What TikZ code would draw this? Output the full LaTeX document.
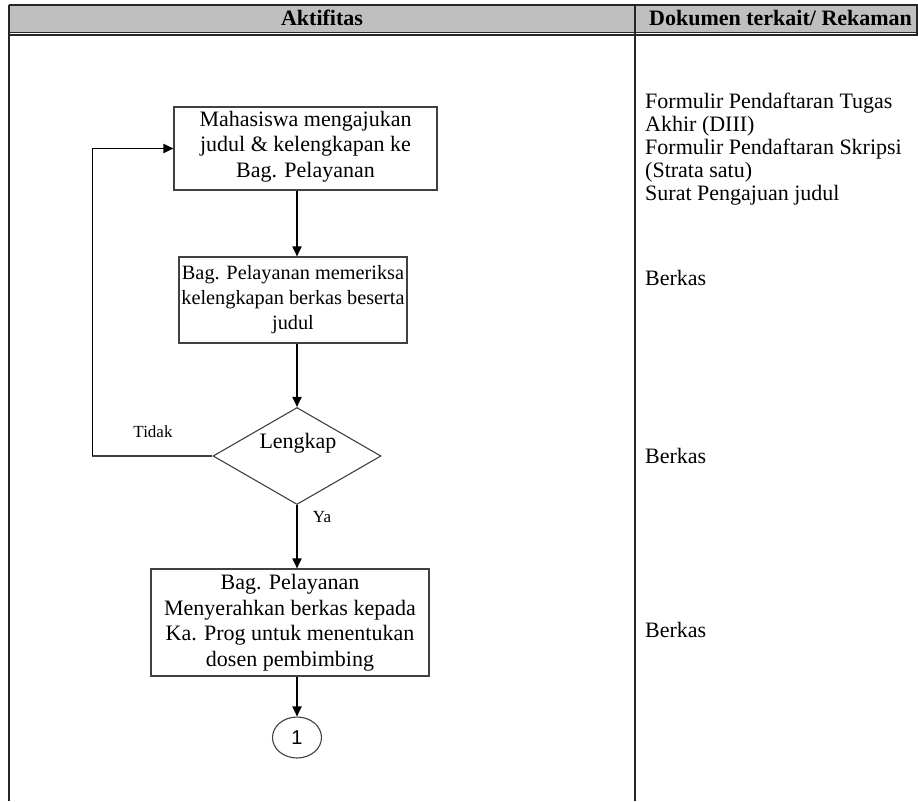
\documentclass[tikz,border=0pt]{standalone}
\usepackage{fontspec}
\setmainfont{Liberation Serif}
\newfontfamily\arialfont{Liberation Sans}
\usetikzlibrary{shapes.geometric,arrows.meta}
\begin{document}
\begin{tikzpicture}[x=1pt,y=-1pt,
  box/.style={draw=black!75, line width=1.1pt, align=center, inner sep=0pt,
    font=\fontsize{22}{25.5}\selectfont},
  conn/.style={line width=1.8pt, -{Triangle[length=10pt,width=9pt]}},
  fb/.style={draw=black!75, line width=1.3pt},
  small/.style={inner sep=0pt, font=\fontsize{17}{20}\selectfont},
  doc/.style={inner sep=0pt, align=left, anchor=north west, font=\fontsize{22}{23}\selectfont},
  hdr/.style={inner sep=0pt, font=\fontsize{22}{24}\selectfont\bfseries},
  rule/.style={line width=1.5pt, draw=black!85}]
\useasboundingbox (0,0) rectangle (918,801);
% table
\fill[black!25] (9,5) rectangle (918,32);
\draw[rule] (9,5) -- (918,5);
\draw[rule] (9,32.3) -- (918,32.3);
\draw[rule] (9,35) -- (918,35);
\draw[rule] (9,5) -- (9,801);
\draw[rule] (635,5) -- (635,801);
\draw[rule] (917,5) -- (917,35);
\node[hdr, anchor=base] (h1) at (322,25) {Aktifitas};
\node[hdr, anchor=base west] (h2) at (649,25) {Dokumen terkait/ Rekaman};
% flowchart
\node[box, minimum width=263pt, minimum height=83pt] (b1) at (305.5,148.5)
  {Mahasiswa mengajukan\\judul \& kelengkapan ke\\Bag. Pelayanan\rule[-9pt]{0pt}{1pt}};
\node[box, minimum width=228pt, minimum height=86pt, font=\fontsize{20.3}{25}\selectfont] (b2) at (293,300)
  {Bag. Pelayanan memeriksa\\kelengkapan berkas beserta\\judul};
\node[draw=black!75, line width=1.1pt, diamond, inner sep=0pt, minimum width=168pt, minimum height=97pt] (dia) at (297,456) {};
\node[inner sep=0pt, font=\fontsize{22}{24}\selectfont] (lk) at (298,443) {Lengkap};
\node[box, minimum width=278pt, minimum height=107pt] (b3) at (290,622.5)
  {Bag. Pelayanan\\Menyerahkan berkas kepada\\Ka. Prog untuk menentukan\\dosen pembimbing};
\node[draw=black!75, line width=1.1pt, ellipse, inner sep=0pt, minimum width=49pt, minimum height=41pt, font=\fontsize{20}{22}\selectfont\arialfont] (c1) at (297,737.5) {1};
\draw[conn] (b1.south -| dia.north) -- (b2.north -| dia.north);
\draw[conn] (b2.south -| dia.north) -- (dia.north);
\draw[conn] (dia.south) -- (b3.north -| dia.south);
\draw[conn] (b3.south -| dia.south) -- (c1.north);
\draw[fb] (dia.west) -- ++(-120,0) coordinate (fc);
\draw[conn] (fc) |- (b1.west);
\node[small] (td) at (153,432) {Tidak};
\node[small] (ya) at (322,517) {Ya};
% documents
\node[doc] (d1) at (645,92.5) {Formulir Pendaftaran Tugas\\Akhir (DIII)\\Formulir Pendaftaran Skripsi\\(Strata satu)\\Surat Pengajuan judul};
\node[doc, anchor=base west] (d2) at (645,285) {Berkas};
\node[doc, anchor=base west] (d3) at (645,463) {Berkas};
\node[doc, anchor=base west] (d4) at (645,637) {Berkas};
\end{tikzpicture}
\end{document}
